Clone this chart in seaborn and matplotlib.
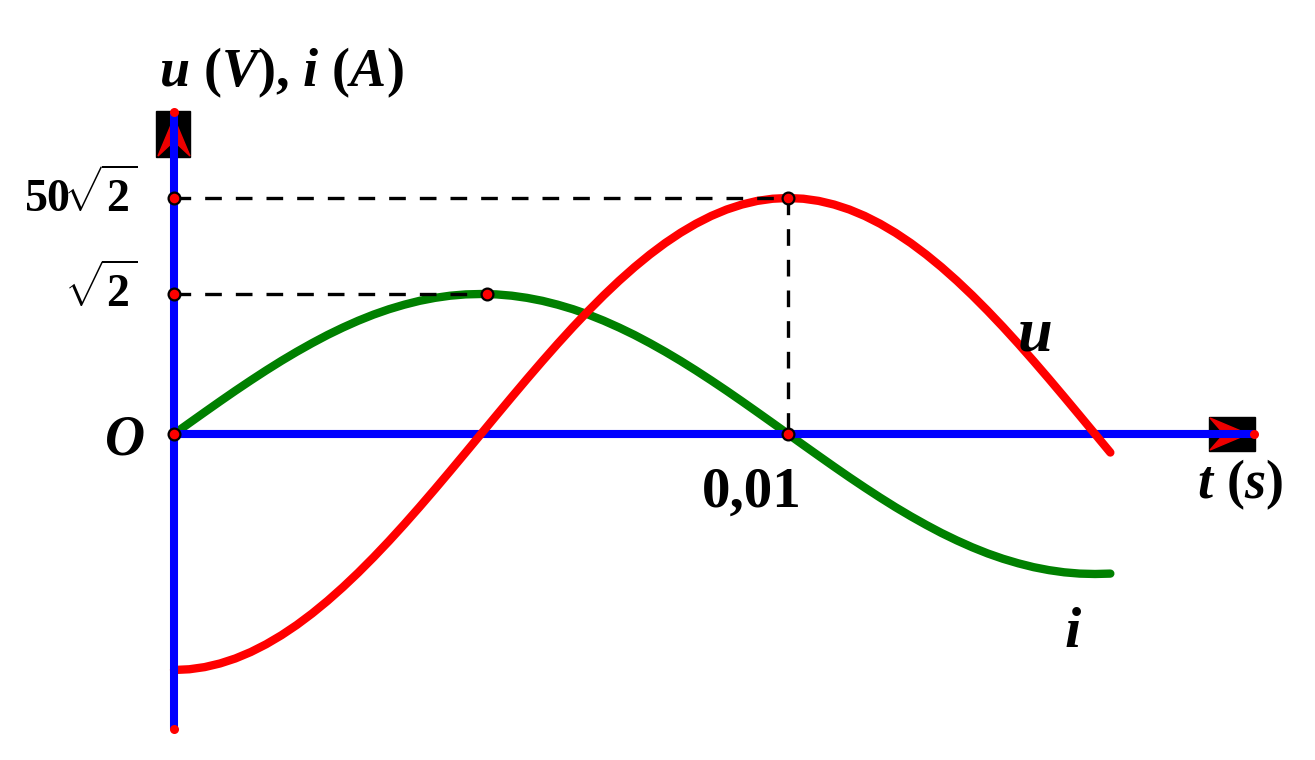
import matplotlib
matplotlib.use("Agg")
import matplotlib.pyplot as plt
import seaborn as sns
from matplotlib.patches import Polygon, Rectangle

# samples: time (s), voltage u (V), current i (A)
t_s = [0.0, 0.00025, 0.0005, 0.00075, 0.001, 0.00125, 0.0015, 0.00175, 0.002, 0.00225,
       0.0025, 0.00275, 0.003, 0.00325, 0.0035, 0.00375, 0.004, 0.00425, 0.0045, 0.00475,
       0.005, 0.00525, 0.0055, 0.00575, 0.006, 0.00625, 0.0065, 0.00675, 0.007, 0.00725,
       0.0075, 0.00775, 0.008, 0.00825, 0.0085, 0.00875, 0.009, 0.00925, 0.0095, 0.00975,
       0.01, 0.01025, 0.0105, 0.01075, 0.011, 0.01125, 0.0115, 0.01175, 0.012, 0.01225,
       0.0125, 0.01275, 0.013, 0.01325, 0.0135, 0.01375, 0.014, 0.01425, 0.0145, 0.01475,
       0.015, 0.01525]
u_V = [-70.71, -70.49, -69.84, -68.75, -67.25, -65.33, -63.00, -60.29, -57.21, -53.77,
       -50.00, -45.92, -41.56, -36.94, -32.10, -27.06, -21.85, -16.51, -11.06, -5.55,
       0.00, 5.55, 11.06, 16.51, 21.85, 27.06, 32.10, 36.94, 41.56, 45.92,
       50.00, 53.77, 57.21, 60.29, 63.00, 65.33, 67.25, 68.75, 69.84, 70.49,
       70.71, 70.49, 69.84, 68.75, 67.25, 65.33, 63.00, 60.29, 57.21, 53.77,
       50.00, 45.92, 41.56, 36.94, 32.10, 27.06, 21.85, 16.51, 11.06, 5.55,
       0.00, -5.55]
i_A = [0.000, 0.111, 0.221, 0.330, 0.437, 0.541, 0.642, 0.739, 0.831, 0.918,
       1.000, 1.075, 1.144, 1.206, 1.260, 1.306, 1.345, 1.375, 1.397, 1.410,
       1.414, 1.410, 1.397, 1.375, 1.345, 1.306, 1.260, 1.206, 1.144, 1.075,
       1.000, 0.918, 0.831, 0.739, 0.642, 0.541, 0.437, 0.330, 0.221, 0.111,
       0.000, -0.111, -0.221, -0.330, -0.437, -0.541, -0.642, -0.739, -0.831, -0.918,
       -1.000, -1.075, -1.144, -1.206, -1.260, -1.306, -1.345, -1.375, -1.397, -1.410,
       -1.414, -1.410]

# marked values
U_MAX = 70.71      # 50*sqrt(2)
I_MAX = 1.414      # sqrt(2)
T_MARK = 0.01
T_IPEAK = 0.0051

u_tick_label = r"$50\!\sqrt{2}$"
i_tick_label = r"$\sqrt{2}$"
t_tick_label = "0,01"

# layout: figure pixels, origin of the axes in the picture
W, H = 1315, 760
X0, Y0 = 174, 434
PX_T = T_MARK / 614
PX_U = U_MAX / 236
PX_I = I_MAX / 140


def px(x, y):
    # picture pixel -> (t, u) data coordinates
    return ((x - X0) * PX_T, (Y0 - y) * PX_U)


sns.set_theme(style="white")
plt.rcParams["font.family"] = ["Liberation Serif", "DejaVu Serif"]
plt.rcParams["mathtext.fontset"] = "custom"
plt.rcParams["mathtext.rm"] = "Liberation Serif:bold"
plt.rcParams["mathtext.bf"] = "Liberation Serif:bold"
plt.rcParams["mathtext.it"] = "Liberation Serif:italic:bold"

fig = plt.figure(figsize=(W / 100, H / 100), dpi=100)
ax = fig.add_axes([0, 0, 1, 1])
ax2 = ax.twinx()
ax.set_zorder(2)
ax2.set_zorder(1)
ax.patch.set_visible(False)

ax.set_xlim(-X0 * PX_T, (W - X0) * PX_T)
ax.set_ylim(-(H - Y0) * PX_U, Y0 * PX_U)
ax2.set_ylim(-(H - Y0) * PX_I, Y0 * PX_I)

t_end = px(1254, Y0)[0]
y_top = px(X0, 112)[1]
y_bot = px(X0, 729)[1]
dash = dict(color="black", lw=2.4, dashes=(5.0, 4.2), zorder=4)

# lower layer: t axis, current curve, sqrt(2) guide
ax2.plot([0, t_end], [0, 0], color="#0000ff", lw=5.8, solid_capstyle="butt", zorder=1)
sns.lineplot(x=t_s, y=i_A, ax=ax2, color="#008000", linewidth=6,
             sort=False, estimator=None, zorder=3)
ax2.plot([0, T_IPEAK], [I_MAX, I_MAX], **dash)

# upper layer: voltage curve, u axis, guides, points
sns.lineplot(x=t_s, y=u_V, ax=ax, color="#ff0000", linewidth=6,
             sort=False, estimator=None, zorder=3)
ax.plot([0, T_MARK], [U_MAX, U_MAX], **dash)
ax.plot([T_MARK, T_MARK], [U_MAX, 0], **dash)

# arrow boxes at the axis ends
ax.add_patch(Rectangle(px(156, 157), 34 * PX_T, 46 * PX_U, color="black", zorder=2))
ax.add_patch(Polygon([px(174, 118), px(190, 156), px(174, 141), px(158, 156)],
                     closed=True, color="#ee0000", zorder=2.5))
ax.add_patch(Rectangle(px(1209, 451), 46 * PX_T, 34 * PX_U, color="black", zorder=2))
ax.add_patch(Polygon([px(1248, 434), px(1210, 418), px(1224, 434), px(1210, 450)],
                     closed=True, color="#ee0000", zorder=2.5))

ax.plot([0, t_end], [0, 0], color="#0000ff", lw=5.8, solid_capstyle="butt", zorder=2.8)
ax.plot([0, 0], [y_bot, y_top], color="#0000ff", lw=5.8, solid_capstyle="butt", zorder=5)

# end dots of the axes
ax.plot([0, 0, t_end], [y_top, y_bot, 0], ls="none", marker="o", ms=6.5,
        color="#ff0000", mew=0, zorder=6)

dot = dict(ls="none", marker="o", ms=8.5, mfc="#ff0000", mec="black", mew=1.6, zorder=7)
ax.plot([0, T_MARK, 0, T_MARK], [U_MAX, U_MAX, 0, 0], **dot)
ax.plot([0, T_IPEAK], [I_MAX, I_MAX], transform=ax2.transData, **dot)

# texts
off = dict(textcoords="offset pixels", color="black")
ax.annotate(u_tick_label, (0, U_MAX), xytext=(-37, -14), ha="right", va="baseline",
            fontsize=33, **off)
ax2.annotate(i_tick_label, (0, I_MAX), xytext=(-37, -13), ha="right", va="baseline",
             fontsize=33, **off)
ax.annotate("O", (0, 0), xytext=(-29, -20), ha="right", va="baseline", fontsize=40,
            fontweight="bold", fontstyle="italic", **off)
ax.annotate(t_tick_label, (T_MARK, 0), xytext=(-36, -73), ha="center", va="baseline",
            fontsize=41, fontweight="bold", **off)
ax.annotate(r"$t\ (s)$", (t_end, 0), xytext=(-14, -64), ha="center", va="baseline",
            fontsize=39, **off)
ax.annotate(r"$u\ (V){,}\ i\ (A)$", (0, y_top), xytext=(107, 26), ha="center",
            va="baseline", fontsize=39, **off)
ax.annotate("u", (0, 0), xytext=(861, 84), ha="center", va="baseline", fontsize=45,
            fontweight="bold", fontstyle="italic", **off)
ax.annotate("i", (0, 0), xytext=(899, -213), ha="center", va="baseline", fontsize=42,
            fontweight="bold", fontstyle="italic", **off)

ax.axis("off")
ax2.axis("off")
fig.savefig("out.png", dpi=100)
plt.close(fig)
